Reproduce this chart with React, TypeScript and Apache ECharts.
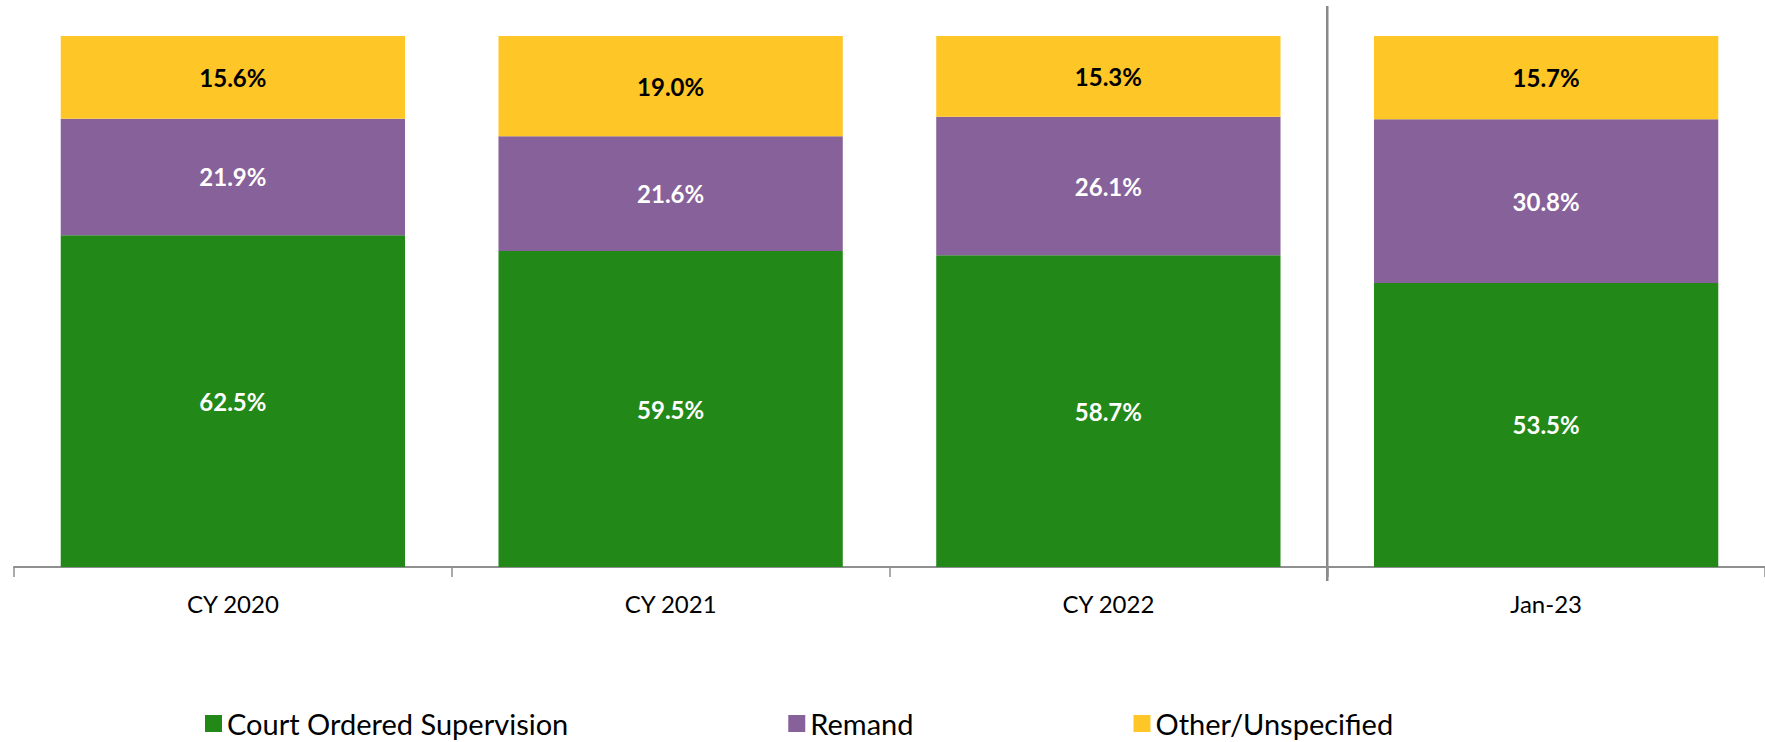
import React, { useEffect, useRef } from "react";
import * as echarts from "echarts";

const categories = ["CY 2020", "CY 2021", "CY 2022", "Jan-23"];
const courtOrdered = [62.5, 59.5, 58.7, 53.5];
const remand = [21.9, 21.6, 26.1, 30.8];
const other = [15.6, 19.0, 15.3, 15.7];
const seriesNames = ["Court Ordered Supervision", "Remand", "Other/Unspecified"];
const colors = ["#228818", "#876199", "#FFC627"];

const FONT = "Lato, 'Noto Sans', sans-serif";

export default function App() {
  const ref = useRef<HTMLDivElement>(null);
  useEffect(() => {
    document.body.style.margin = "0";
    const chart = echarts.init(ref.current!, null, { renderer: "svg" });
    const mk = (name: string, data: number[], color: string, labelColor: string) => ({
      name,
      type: "bar",
      stack: "total",
      data,
      barCategoryGap: "21.35%",
      itemStyle: { color },
      label: {
        show: true,
        position: "inside",
        formatter: (p: any) => p.value.toFixed(1) + "%",
        color: labelColor,
        fontFamily: FONT,
        fontWeight: "bold",
        fontSize: 24,
      },
    });
    chart.setOption({
      animation: false,
      textStyle: { fontFamily: FONT },
      grid: { left: 14, top: 36, height: 531, width: 1765, containLabel: false },
      legend: {
        left: 200,
        top: 704,
        icon: "rect",
        itemWidth: 17,
        itemHeight: 17,
        itemGap: 220,
        textStyle: { fontSize: 29, color: "#000", fontFamily: FONT },
        data: seriesNames,
      },
      xAxis: {
        type: "category",
        data: categories,
        axisLine: { lineStyle: { color: "#8f8f8f", width: 2 } },
        axisTick: { show: true, length: 10, lineStyle: { color: "#8f8f8f", width: 1.5 } },
        axisLabel: { color: "#000", fontSize: 24, margin: 24, fontFamily: FONT },
      },
      yAxis: {
        type: "value",
        min: 0,
        max: 100,
        show: false,
        splitLine: { show: false },
      },
      series: [
        mk(seriesNames[0], courtOrdered, colors[0], "#ffffff"),
        mk(seriesNames[1], remand, colors[1], "#ffffff"),
        mk(seriesNames[2], other, colors[2], "#000000"),
      ],
    });
    const c3 = chart.convertToPixel({ xAxisIndex: 0 }, categories[2]) as number;
    const c4 = chart.convertToPixel({ xAxisIndex: 0 }, categories[3]) as number;
    const sepX = (c3 + c4) / 2;
    chart.setOption({
      graphic: [
        {
          type: "line",
          shape: { x1: sepX, y1: 6, x2: sepX, y2: 581 },
          style: { stroke: "#8a8a8a", lineWidth: 2.5 },
        },
      ],
    });
    return () => chart.dispose();
  }, []);
  return <div ref={ref} style={{ width: 1765, height: 742 }} />;
}
